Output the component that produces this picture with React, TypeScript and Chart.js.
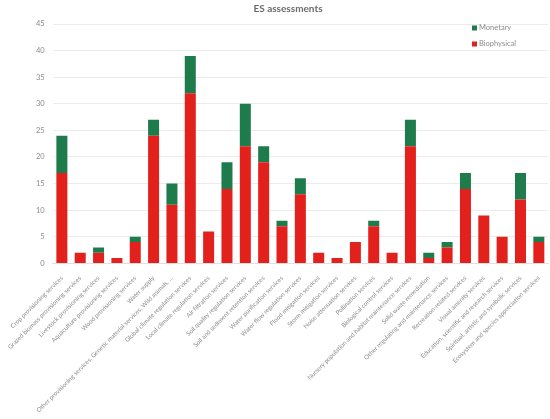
import React, { useEffect, useRef } from "react";
import { Chart, registerables } from "chart.js";

Chart.register(...registerables);

const categories: string[] = [
  "Crop provisioning services",
  "Grazed biomass provisioning services",
  "Livestock provisioning services",
  "Aquaculture provisioning services",
  "Wood provisioning services",
  "Water supply",
  "Other provisioning services, Genetic material services, Wild animals, ...",
  "Global climate regulation services",
  "Local climate regulation services",
  "Air filtration services",
  "Soil quality regulation services",
  "Soil and sediment retention services",
  "Water purification services",
  "Water flow regulation services",
  "Flood mitigation services",
  "Storm mitigation services",
  "Noise attenuation services",
  "Pollination services",
  "Biological control services",
  "Nursery population and habitat maintenance services",
  "Solid waste remediation",
  "Other regulating and maintenance services",
  "Recreation-related services",
  "Visual amenity services",
  "Education, scientific and research services",
  "Spiritual, artistic and symbolic services",
  "Ecosystem and species appreciation services",
];

const biophysical: number[] = [17, 2, 2, 1, 4, 24, 11, 32, 6, 14, 22, 19, 7, 13, 2, 1, 4, 7, 2, 22, 1, 3, 14, 9, 5, 12, 4];
const monetary: number[] = [7, 0, 1, 0, 1, 3, 4, 7, 0, 5, 8, 3, 1, 3, 0, 0, 0, 1, 0, 5, 1, 1, 3, 0, 0, 5, 1];

const yTicks: number[] = [0, 5, 10, 15, 20, 25, 30, 35, 40, 45];

const RED = "#E2211C";
const GREEN = "#1E7B4C";
const GRAY = "#8c8c8c";
const FONT = "Lato, 'Open Sans', sans-serif";

const legendPlugin = {
  id: "insideLegend",
  afterDraw(chart: any) {
    const { ctx, chartArea } = chart;
    const items = [
      { label: "Monetary", color: GREEN },
      { label: "Biophysical", color: RED },
    ];
    ctx.save();
    ctx.font = `7.5px ${FONT}`;
    ctx.textBaseline = "middle";
    ctx.textAlign = "left";
    const x0 = chartArea.right - 76;
    const y0 = chartArea.top + 4;
    items.forEach((it, i) => {
      const y = y0 + i * 16;
      ctx.fillStyle = it.color;
      ctx.fillRect(x0, y - 2.5, 5, 5);
      ctx.fillStyle = GRAY;
      ctx.fillText(it.label, x0 + 7, y);
    });
    ctx.restore();
  },
};

export default function App() {
  const ref = useRef<HTMLCanvasElement | null>(null);

  useEffect(() => {
    document.body.style.margin = "0";
    if (!ref.current) return;
    const chart = new Chart(ref.current, {
      type: "bar",
      data: {
        labels: categories,
        datasets: [
          {
            label: "Biophysical",
            data: biophysical,
            backgroundColor: RED,
            stack: "s",
            categoryPercentage: 1,
            barPercentage: 0.6,
          },
          {
            label: "Monetary",
            data: monetary,
            backgroundColor: GREEN,
            stack: "s",
            categoryPercentage: 1,
            barPercentage: 0.6,
          },
        ],
      },
      options: {
        animation: false,
        responsive: false,
        maintainAspectRatio: false,
        layout: { padding: { left: 28, right: 2, top: 0, bottom: 2 } },
        plugins: {
          legend: { display: false },
          tooltip: { enabled: false },
          title: {
            display: true,
            text: "ES assessments",
            color: "#6b6b6b",
            font: { family: FONT, size: 10, weight: "bold" },
            padding: { top: 3, bottom: 9 },
          },
        },
        scales: {
          x: {
            stacked: true,
            grid: { display: false },
            border: { display: true, color: "#e0e0e0" },
            ticks: {
              color: GRAY,
              font: { family: FONT, size: 6.2 },
              minRotation: 45,
              maxRotation: 45,
              autoSkip: false,
              padding: 3,
            },
          },
          y: {
            stacked: true,
            min: 0,
            max: 45,
            afterBuildTicks: (axis: any) => {
              axis.ticks = yTicks.map((v) => ({ value: v }));
            },
            grid: { color: "#ececec", drawTicks: false },
            border: { display: false },
            ticks: {
              color: GRAY,
              font: { family: FONT, size: 7.5 },
              padding: 8,
            },
          },
        },
      },
      plugins: [legendPlugin],
    } as any);
    return () => chart.destroy();
  }, []);

  return (
    <div style={{ position: "absolute", left: 0, top: 0, width: 550, height: 419 }}>
      <canvas ref={ref} width={550} height={419} style={{ width: 550, height: 419 }} />
    </div>
  );
}
